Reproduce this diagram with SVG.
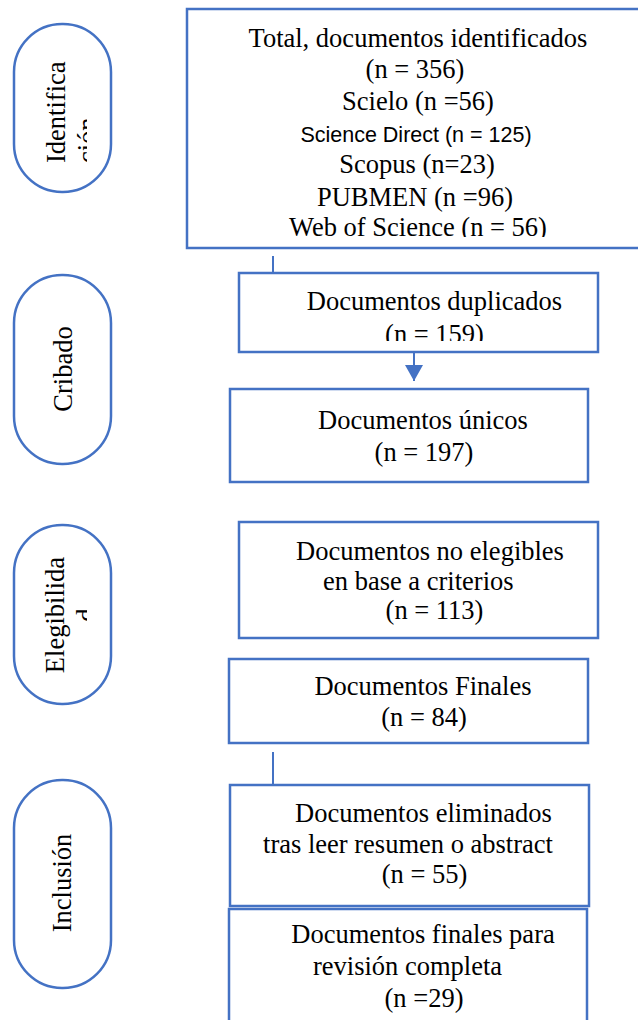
<svg xmlns="http://www.w3.org/2000/svg" width="638" height="1020" viewBox="0 0 638 1020">
<style>
.box{fill:#ffffff;stroke:#4472C4;stroke-width:2.5}
.pill{fill:#ffffff;stroke:#4472C4;stroke-width:2.5}
.t{font-family:"Liberation Serif","Times New Roman",serif;font-size:26.5px;fill:#000}
.s{font-family:"Liberation Sans",Arial,sans-serif;font-size:21.5px;fill:#000}
.c{text-anchor:middle}
.conn{stroke:#4472C4;stroke-width:2;fill:none}
</style>
<defs>
<marker id="arr" markerWidth="16" markerHeight="18" refX="16" refY="9" orient="auto" markerUnits="userSpaceOnUse" viewBox="0 0 16 18">
<path d="M0,0 L16,9 L0,18 Z" fill="#4472C4"/>
</marker>
<clipPath id="clipTop"><rect x="180" y="0" width="460" height="237"/></clipPath>
<clipPath id="clipDup"><rect x="230" y="270" width="380" height="71"/></clipPath>
<clipPath id="clipP1"><rect x="0" y="0" width="87" height="260"/></clipPath>
<clipPath id="clipP3"><rect x="0" y="500" width="87" height="260"/></clipPath>
</defs>
<rect width="638" height="1020" fill="#ffffff"/>

<g id="pill-identificacion">
<rect class="pill" x="14" y="24" width="97" height="168" rx="48" ry="48"/>
<g clip-path="url(#clipP1)">
<text class="t" transform="translate(65,163) rotate(-90)">Identifica</text>
<text class="t" transform="translate(96,163) rotate(-90)">ción</text>
</g>
</g>

<g id="node-total">
<rect class="box" x="187" y="9" width="460" height="239"/>
<g clip-path="url(#clipTop)">
<text class="t c" x="418" y="47">Total, documentos identificados</text>
<text class="t c" x="415" y="78">(n = 356)</text>
<text class="t c" x="418" y="110">Scielo (n =56)</text>
<text class="s c" x="416" y="142">Science Direct (n = 125)</text>
<text class="t c" x="417" y="173">Scopus (n=23)</text>
<text class="t c" x="415" y="206">PUBMEN (n =96)</text>
<text class="t c" x="418" y="236">Web of Science (n = 56)</text>
</g>
</g>

<g id="pill-cribado">
<rect class="pill" x="14" y="275" width="97" height="189" rx="48" ry="48"/>
<text class="t c" transform="translate(72,369) rotate(-90)">Cribado</text>
</g>

<g id="node-duplicados">
<rect class="box" x="239" y="273" width="359" height="79"/>
<g clip-path="url(#clipDup)">
<text class="t c" x="434.5" y="310">Documentos duplicados</text>
<text class="t c" x="434.5" y="343">(n = 159)</text>
</g>
</g>

<g id="node-unicos">
<rect class="box" x="230" y="389" width="358" height="93"/>
<text class="t c" x="423" y="429">Documentos únicos</text>
<text class="t c" x="424" y="461">(n = 197)</text>
</g>

<g id="pill-elegibilidad">
<rect class="pill" x="14" y="525" width="97" height="179" rx="48" ry="48"/>
<g clip-path="url(#clipP3)">
<text class="t c" transform="translate(64,615) rotate(-90)">Elegibilida</text>
<text class="t c" transform="translate(95,615) rotate(-90)">d</text>
</g>
</g>

<g id="node-no-elegibles">
<rect class="box" x="239" y="522" width="359" height="116"/>
<text class="t c" x="430" y="560">Documentos no elegibles</text>
<text class="t" x="323" y="590">en base a criterios</text>
<text class="t c" x="434.5" y="619">(n = 113)</text>
</g>

<g id="node-finales">
<rect class="box" x="229" y="659" width="359" height="84"/>
<text class="t c" x="423" y="695">Documentos Finales</text>
<text class="t c" x="424" y="726">(n = 84)</text>
</g>

<g id="pill-inclusion">
<rect class="pill" x="14" y="780" width="97" height="208" rx="48" ry="48"/>
<text class="t c" transform="translate(71,883) rotate(-90)">Inclusión</text>
</g>

<g id="node-eliminados">
<rect class="box" x="230" y="785" width="359" height="121"/>
<text class="t c" x="423.5" y="822">Documentos eliminados</text>
<text class="t c" x="408" y="853">tras leer resumen o abstract</text>
<text class="t c" x="424.5" y="883">(n = 55)</text>
</g>

<g id="node-revision">
<rect class="box" x="229" y="909" width="358" height="130"/>
<text class="t c" x="423" y="943">Documentos finales para</text>
<text class="t" x="313" y="975">revisión completa</text>
<text class="t c" x="424" y="1007">(n =29)</text>
</g>

<g id="connectors">
<line class="conn" x1="273" y1="256" x2="273" y2="273"/>
<line class="conn" x1="414" y1="353" x2="414" y2="381" marker-end="url(#arr)"/>
<line class="conn" x1="273" y1="752" x2="273" y2="785"/>
</g>
</svg>
